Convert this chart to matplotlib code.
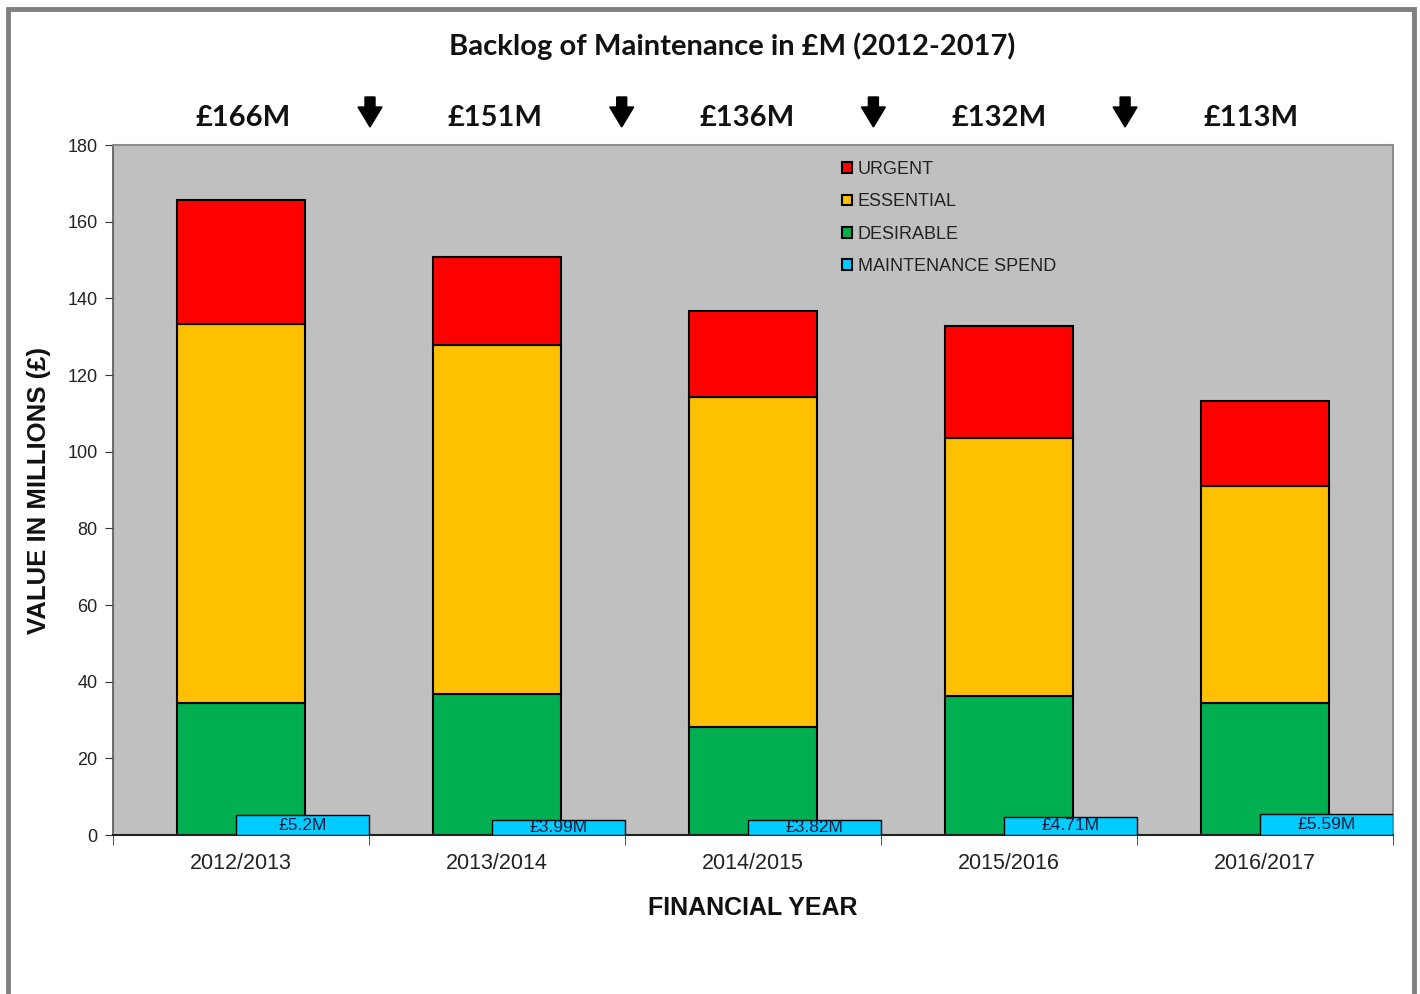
import matplotlib
matplotlib.use("Agg")
from matplotlib import pyplot as plt
from matplotlib.patches import Rectangle, Polygon
import numpy as np

# data
years = ['2012/2013', '2013/2014', '2014/2015', '2015/2016', '2016/2017']
desirable = [34.4, 36.8, 28.2, 36.3, 34.4]
essential = [98.9, 91.0, 86.1, 67.3, 56.6]
urgent = [32.4, 23.0, 22.4, 29.2, 22.2]
spend = [5.2, 3.99, 3.82, 4.71, 5.59]
spend_labels = ['£5.2M', '£3.99M', '£3.82M', '£4.71M', '£5.59M']
totals_labels = ['£166M', '£151M', '£136M', '£132M', '£113M']

W, H = 1420, 994
fig = plt.figure(figsize=(W / 100, H / 100), dpi=100)
ax = fig.add_axes([113 / W, 1 - 835 / H, 1280 / W, 690 / H])
ax.set_facecolor('#C0C0C0')

x = np.arange(len(years))
des = np.array(desirable)
ess = np.array(essential)
urg = np.array(urgent)

ax.bar(x, des, width=0.5, color='#00B050', edgecolor='black', linewidth=1.5,
       label='DESIRABLE', zorder=2)
ax.bar(x, ess, width=0.5, bottom=des, color='#FFC000', edgecolor='black',
       linewidth=1.5, label='ESSENTIAL', zorder=2)
ax.bar(x, urg, width=0.5, bottom=des + ess, color='#FF0000',
       edgecolor='black', linewidth=1.5, label='URGENT', zorder=2)
sp = ax.bar(x + 0.24, spend, width=0.52, color='#00CCFF', edgecolor='black',
            linewidth=1.0, label='MAINTENANCE SPEND', zorder=3)
for rect, lab in zip(sp, spend_labels):
    ax.text(rect.get_x() + rect.get_width() / 2, rect.get_height() / 2, lab,
            ha='center', va='center', fontsize=12.5, color='#1a1a40',
            family='Liberation Sans', zorder=4)

ax.set_xlim(-0.5, len(years) - 0.5)
ax.set_ylim(0, 180)
ax.set_yticks(np.arange(0, 181, 20))
ax.set_xticks(x)
ax.set_xticklabels(years, fontsize=15.5, family='Liberation Sans', color='#222222')
ax.set_xticks(np.arange(-0.5, len(years), 1), minor=True)
ax.tick_params(axis='x', which='major', length=0, pad=13)
ax.tick_params(axis='x', which='minor', length=7, direction='out', color='#333333')
ax.tick_params(axis='y', length=6, direction='out', color='#333333',
               labelsize=13, pad=5)
for lab in ax.get_yticklabels():
    lab.set_family('Liberation Sans')
    lab.set_color('#222222')

for s in ['top', 'right']:
    ax.spines[s].set_color('#8c8c8c')
    ax.spines[s].set_linewidth(1.5)
ax.spines['left'].set_color('#555555')
ax.spines['bottom'].set_color('#222222')
ax.spines['left'].set_linewidth(1.2)
ax.spines['bottom'].set_linewidth(1.5)

ax.set_xlabel('FINANCIAL YEAR', fontsize=18, fontweight='bold',
              family='Liberation Sans', color='#111111', labelpad=16)
ax.set_ylabel('VALUE IN MILLIONS (£)', fontsize=18.5, fontweight='bold',
              family='Liberation Sans', color='#111111', labelpad=12)

handles, labels = ax.get_legend_handles_labels()
order = [2, 1, 0, 3]
leg = ax.legend([handles[i] for i in order], [labels[i] for i in order],
                loc='upper left', bbox_to_anchor=(0.56, 0.995), frameon=False,
                prop={'family': 'Liberation Sans', 'size': 13},
                handlelength=0.55, handleheight=0.55, handletextpad=0.3,
                labelspacing=0.85, borderaxespad=0.3)
for t in leg.get_texts():
    t.set_color('#222222')
for h in leg.legend_handles:
    h.set_linewidth(1.5)

fig.text(732 / W, 1 - 46 / H, 'Backlog of Maintenance in £M (2012-2017)',
         ha='center', va='center', fontsize=21, fontweight='bold',
         family='Lato', color='#111111')


def down_arrow(cx):
    # block arrow in pixel units: top 97, head starts 107, tip 127
    pts = [(cx - 5, 97), (cx + 5, 97), (cx + 5, 107), (cx + 12, 107),
           (cx, 127), (cx - 12, 107), (cx - 5, 107)]
    pts = [(px / W, 1 - py / H) for px, py in pts]
    fig.patches.append(Polygon(pts, closed=True, transform=fig.transFigure,
                               facecolor='black', edgecolor='black'))


for i, lab in enumerate(totals_labels):
    fig.text((243 + 252 * i) / W, 1 - 118 / H, lab, ha='center', va='center',
             fontsize=21, fontweight='bold', family='Lato', color='#111111')
    if i < len(totals_labels) - 1:
        down_arrow(370 + 251.7 * i)

fig.patches.append(Rectangle((8 / W, -0.05), 1406 / W, 1.05 - 9 / H,
                             transform=fig.transFigure, fill=False,
                             edgecolor='#808080', linewidth=3.5))

fig.savefig('out.png', dpi=100)
